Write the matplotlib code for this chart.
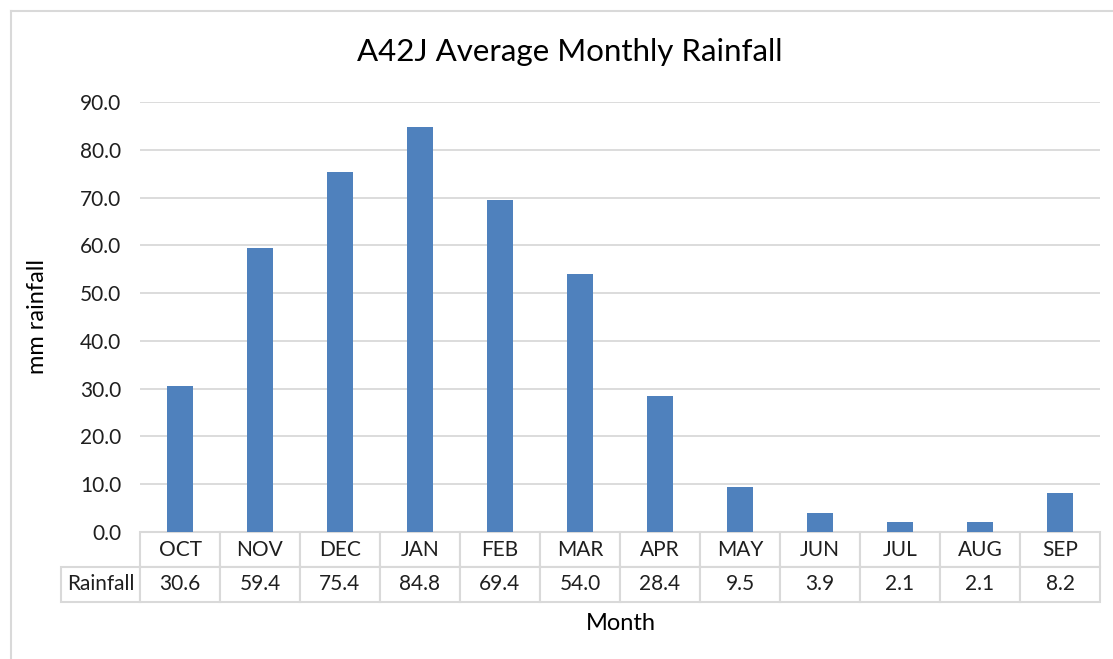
"""
A42J average monthly rainfall: column chart with an Excel-style data table.
Saves out.png.
"""
import matplotlib.pyplot as plt
from matplotlib.lines import Line2D

plt.rcParams['font.family'] = ['Lato', 'DejaVu Sans']

# Data
months = ['OCT', 'NOV', 'DEC', 'JAN', 'FEB', 'MAR',
          'APR', 'MAY', 'JUN', 'JUL', 'AUG', 'SEP']
rainfall = [30.6, 59.4, 75.4, 84.8, 69.4, 54.0, 28.4, 9.5, 3.9, 2.1, 2.1, 8.2]
series_name = 'Rainfall'
y_ticks = [0, 10, 20, 30, 40, 50, 60, 70, 80, 90]

# Colors
c_bar = '#4f81bd'
c_grid = '#d9d9d9'
c_text = '#1f1f1f'

W, H = 1113, 659
fig = plt.figure(figsize=(W / 100, H / 100), dpi=100)
fig.patch.set_facecolor('white')

# axes placed in pixel terms
x0, x1 = 140, 1100
y_top, y_bot = 102, 532
ax = fig.add_axes([x0 / W, 1 - y_bot / H, (x1 - x0) / W, (y_bot - y_top) / H])

xs = list(range(len(months)))
ax.bar(xs, rainfall, width=0.33, color=c_bar, zorder=3)
ax.set_xlim(-0.5, len(months) - 0.5)
ax.set_ylim(0, 90)
ax.set_yticks(y_ticks)
ax.set_yticklabels([f'{v:.1f}' for v in y_ticks], fontsize=15, color=c_text)
ax.tick_params(axis='y', length=0, pad=13.5)
ax.set_xticks([])
ax.grid(axis='y', color=c_grid, lw=1.3, zorder=0)
for s in ax.spines.values():
    s.set_visible(False)

# data table below the axes
cell_text = [[''] + months,
             [series_name] + [f'{v:.1f}' for v in rainfall]]
tab_h = 70 / (y_bot - y_top)
lab_w = (x0 - 61) / (x1 - x0)
tbl = ax.table(cellText=cell_text, cellLoc='center',
               colWidths=[lab_w] + [1 / len(months)] * len(months),
               bbox=[-lab_w, -tab_h, 1 + lab_w, tab_h])
tbl.auto_set_font_size(False)
for (r, c), cell in tbl.get_celld().items():
    cell.set_edgecolor(c_grid)
    cell.set_linewidth(1.5)
    cell.get_text().set_fontsize(15)
    cell.get_text().set_color(c_text)
    if r == 0 and c == 0:
        cell.set_visible(False)

# titles
fig.text(570 / W, 1 - 52 / H, 'A42J Average Monthly Rainfall',
         ha='center', va='center', fontsize=22.5, color='black')
fig.text(38 / W, 1 - 316 / H, 'mm rainfall', rotation=90,
         ha='center', va='center', fontsize=17, color='black')
fig.text(621 / W, 1 - 623 / H, 'Month',
         ha='center', va='center', fontsize=17, color='black')

# chart frame (only top and left edges show in the crop)
fig.add_artist(Line2D([11 / W, 11 / W], [0, 1 - 11 / H], color=c_grid, lw=1.5))
fig.add_artist(Line2D([11 / W, 1], [1 - 11 / H, 1 - 11 / H], color=c_grid, lw=1.5))

fig.savefig('out.png', dpi=100, facecolor='white')
